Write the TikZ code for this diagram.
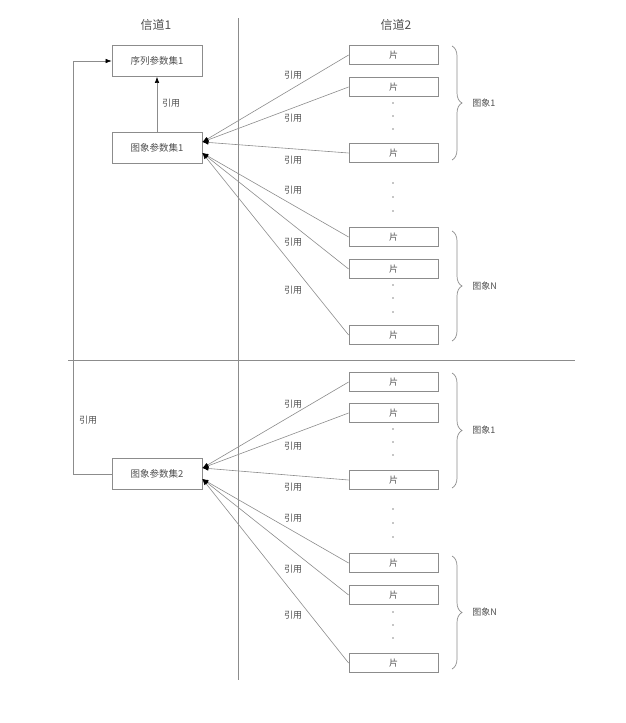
\documentclass[tikz,border=0pt]{standalone}
\usepackage{fontspec}
\setmainfont{Noto Sans CJK SC}
\usetikzlibrary{arrows.meta,decorations.pathreplacing,calc}
\definecolor{ln}{RGB}{140,140,140}
\definecolor{tx}{RGB}{80,80,80}
\tikzset{
  pbox/.style={draw=ln,line width=0.8pt,minimum width=90pt,minimum height=31pt,inner sep=0pt,font=\fontsize{9.5}{10}\selectfont,text=tx},
  sbox/.style={draw=ln,line width=0.8pt,minimum width=89pt,minimum height=19pt,inner sep=0pt,font=\fontsize{9}{10}\selectfont,text=tx},
  lbl/.style={font=\fontsize{9}{10}\selectfont,text=tx,inner sep=0pt},
  ttl/.style={font=\fontsize{12}{13}\selectfont,text=tx,inner sep=0pt},
  conn/.style={draw=ln,line width=0.6pt,-{Latex[length=6pt,width=4.5pt,color=black]}},
  sep/.style={draw=ln,line width=0.9pt},
  brc/.style={draw=ln,line width=0.7pt,decorate,decoration={brace,amplitude=10pt}},
  dotc/.style={fill=ln,draw=none}
}
\begin{document}
\begin{tikzpicture}[x=1pt,y=-1pt]
\useasboundingbox (0,0) rectangle (626,723);
% titles
\node[ttl] (t1) at (156,25) {信道1};
\node[ttl] (t2) at (396,25) {信道2};
% separators
\draw[sep] (238,18) -- (238,680);
\draw[sep] (68,360) -- (575,360);
% parameter sets
\node[pbox] (seq) at (157,61) {序列参数集1};
\node[pbox] (pp1) at (157,148) {图象参数集1};
\node[pbox] (pp2) at (157,474) {图象参数集2};
\draw[conn] (pp1.north) -- (seq.south);
\node[lbl] (r0) at (171,103) {引用};
\coordinate (c1) at (73,474);
\coordinate (c2) at (73,61);
\draw[conn] (pp2.west) -- (c1) -- (c2) -- (seq.west);
\node[lbl] (r00) at (88,420) {引用};
% slices
\foreach \n/\y in {1/55,2/87,3/153,4/237,5/269,6/335,7/382,8/413,9/480,10/563,11/595,12/663}{
  \node[sbox] (s\n) at (393.5,\y) {片};
}
% dots
\foreach \y in {103,116,129,183,197,211,285,298,312,429,442,455,509,523,537,612,625,638}{
  \fill[dotc] (393,\y) circle (0.8pt);
}
% braces
\draw[brc] (452,46) -- (452,160) node[midway,right=20pt,lbl] (g1) {图象1};
\draw[brc] (452,231) -- (452,341) node[midway,right=20pt,lbl] (g2) {图象N};
\draw[brc] (452,373) -- (452,488) node[midway,right=20pt,lbl] (g3) {图象1};
\draw[brc] (452,556) -- (452,669) node[midway,right=20pt,lbl] (g4) {图象N};
% references to pp1
\coordinate (a1) at ($(pp1.east)+(0,-6)$);
\coordinate (b1) at ($(pp1.east)+(0,5)$);
\foreach \n in {1,2,3}{\draw[conn] (s\n.west) -- (a1);}
\foreach \n in {4,5,6}{\draw[conn] (s\n.west) -- (b1);}
\coordinate (a2) at ($(pp2.east)+(0,-6)$);
\coordinate (b2) at ($(pp2.east)+(0,5)$);
\foreach \n in {7,8,9}{\draw[conn] (s\n.west) -- (a2);}
\foreach \n in {10,11,12}{\draw[conn] (s\n.west) -- (b2);}
% labels
\foreach \y/\k in {75/1,118/2,160/3,190/4,242/5,290/6,404/7,446/8,487/9,518/10,569/11,615/12}{
  \node[lbl] (r\k) at (293,\y) {引用};
}
\end{tikzpicture}
\end{document}
